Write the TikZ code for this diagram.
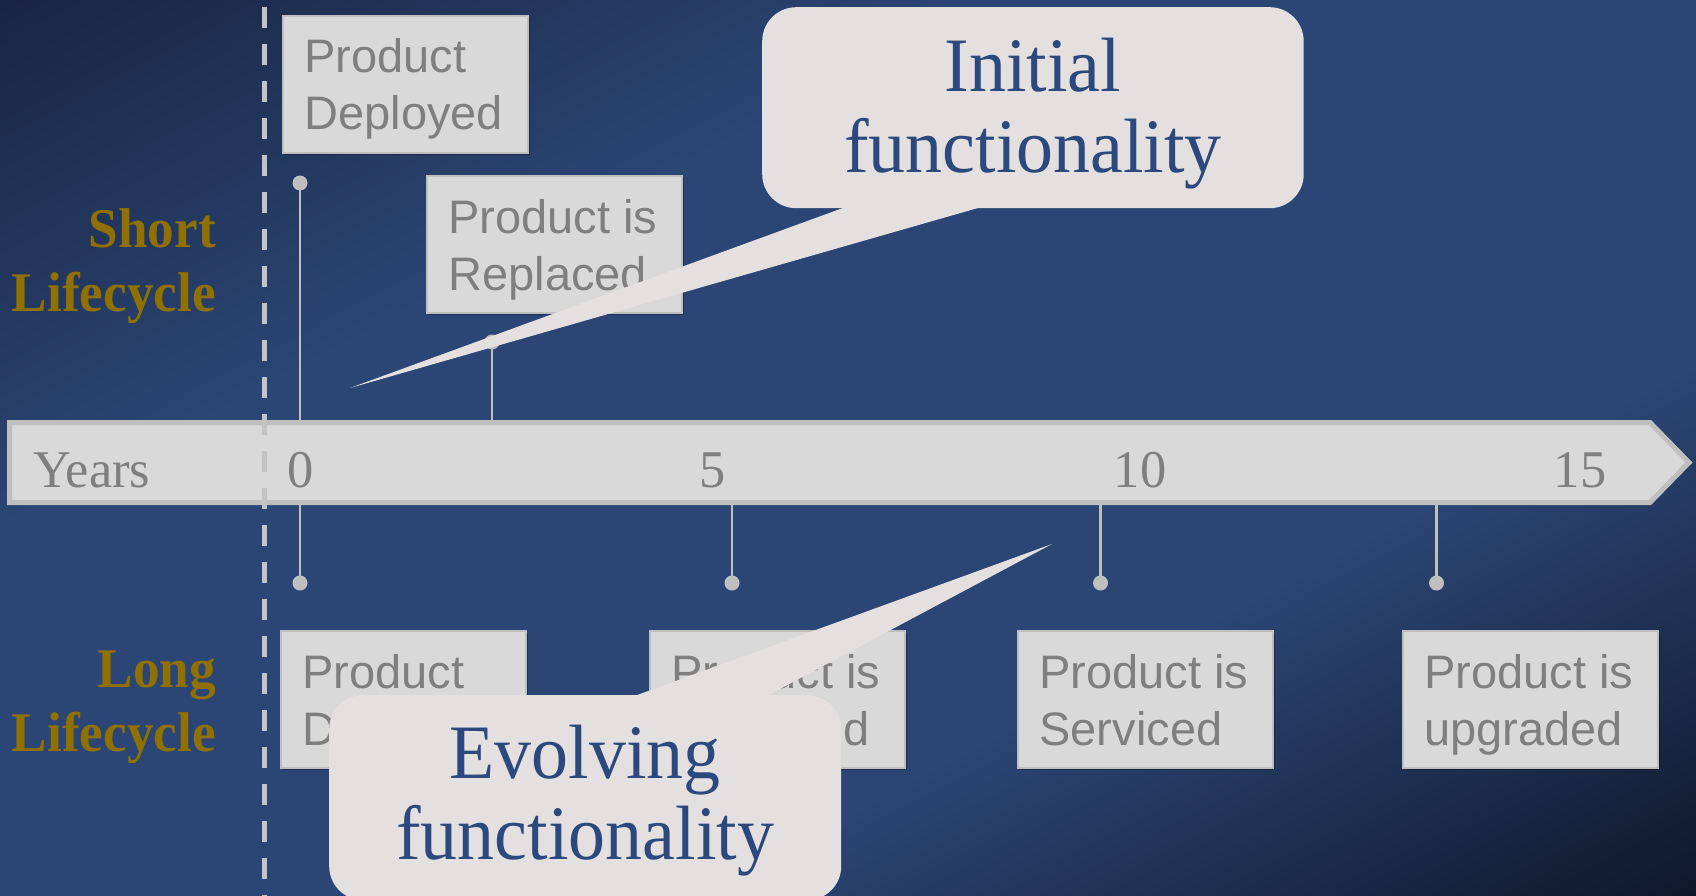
\documentclass[tikz,border=0pt]{standalone}
\usepackage{fontspec}
\setmainfont{Liberation Serif}
\newfontfamily\serifyrs[FakeStretch=0.99]{Liberation Serif}
\newfontfamily\serifcall[FakeStretch=0.96]{Liberation Serif}
\newfontfamily\serifbd[FakeStretch=0.95]{Liberation Serif}
\newfontfamily\sansbox{Liberation Sans}
\usetikzlibrary{shadows}
\definecolor{bgA}{RGB}{25,37,66}
\definecolor{bgB}{RGB}{43,70,117}
\definecolor{bgC}{RGB}{15,23,42}
\definecolor{barfill}{RGB}{217,217,217}
\definecolor{barline}{RGB}{191,191,191}
\definecolor{txtgray}{RGB}{127,127,127}
\definecolor{lifegold}{RGB}{143,112,0}
\definecolor{callfill}{RGB}{229,224,224}
\definecolor{calltext}{RGB}{44,73,126}
\definecolor{dashc}{RGB}{196,196,196}
\pgfdeclarehorizontalshading{bgsh}{100bp}{color(0bp)=(bgA); color(25bp)=(bgA); color(40bp)=(bgB); color(60bp)=(bgB); color(75bp)=(bgC); color(100bp)=(bgC)}
\newcommand\tworight[2]{\vtop{\halign{\hfil##\cr#1\cr#2\cr}}}
\newcommand\twocenter[2]{\vtop{\halign{\hfil##\hfil\cr#1\cr#2\cr}}}
\newcommand\boxtxt[3]{\hbox to #1{\vtop{\halign{##\hfil\cr#2\cr#3\cr}}\hfil}}
\begin{document}
\begin{tikzpicture}[x=1pt,y=-1pt,
  axisbar/.style={fill=barfill,draw=barline,line width=5pt,line join=miter},
  tick/.style={draw=barline,line width=2.5pt},
  dot/.style={circle,fill=barline,inner sep=0pt,minimum size=15pt},
  yrs/.style={font=\serifyrs\fontsize{53}{60}\selectfont,text=txtgray,inner sep=0pt},
  life/.style={font=\serifbd\bfseries\fontsize{56}{64}\selectfont,text=lifegold,inner sep=0pt},
  pbox/.style={anchor=north west,fill=barfill,draw=barline,line width=2pt,
    inner xsep=21.5pt,inner ysep=23pt,text height=34pt,text depth=57pt,
    font=\sansbox\fontsize{47}{57}\selectfont,text=txtgray,
    drop shadow={shadow xshift=1.5pt,shadow yshift=-2pt,opacity=0.3,fill=black}},
  callout/.style={anchor=north west,fill=callfill,rounded corners=34pt,inner sep=0pt,
    font=\serifcall\fontsize{77}{81}\selectfont,text=calltext},
  dashline/.style={draw=dashc,line width=5pt,dash pattern=on 21pt off 16pt}]
\useasboundingbox (0,0) rectangle (1696,896);
\fill[bgB] (0,0) rectangle (1696,896);
\begin{scope}
\clip (0,0) rectangle (1696,896);
\begin{scope}[transform canvas={shift={(848,448)},rotate=-62.16}]
\shade[shading=bgsh,shading angle=0] (-793,-1000) rectangle (793,1000);
\end{scope}
\end{scope}

% timeline axis
\coordinate (axtop) at (0,421);
\coordinate (axbot) at (0,504);
\draw[axisbar] (9.5,422.5) -- (1650,422.5) -- (1689,462.5) -- (1650,502.5) -- (9.5,502.5) -- cycle;

% ticks and dots
\node[dot] (u0) at (300,183) {};
\node[dot] (u2) at (492,342) {};
\node[dot] (l0) at (300,583) {};
\node[dot] (l5) at (732,583) {};
\node[dot] (l10) at (1100.5,583) {};
\node[dot] (l14) at (1436.5,583) {};
\draw[tick] (u0.center) -- (u0 |- axtop);
\draw[tick] (u2.center) -- (u2 |- axtop);
\draw[tick] (l0.center) -- (l0 |- axbot);
\draw[tick] (l5.center) -- (l5 |- axbot);
\draw[tick] (l10.center) -- (l10 |- axbot);
\draw[tick] (l14.center) -- (l14 |- axbot);

% axis labels
\node[yrs,anchor=base west] (years) at (33,487) {Years};
\node[yrs,anchor=base] (n0) at (301,487) {0};
\node[yrs,anchor=base] (n5) at (713,487) {5};
\node[yrs,anchor=base] (n10) at (1140,487) {10};
\node[yrs,anchor=base] (n15) at (1580,487) {15};

% dashed separator
\coordinate (dtop) at (264,7);
\coordinate (dbot) at (264,900);
\draw[dashline] (dtop) -- (dbot);

% lifecycle labels
\node[life,anchor=base east] (short) at (216,247) {\tworight{Short}{Lifecycle}};
\node[life,anchor=base east] (long) at (216,687) {\tworight{Long}{Lifecycle}};

% event boxes
\node[pbox] (bA) at (282,15) {\boxtxt{202pt}{Product}{Deployed}};
\node[pbox] (bB) at (426,175) {\boxtxt{212pt}{Product is}{Replaced}};
\node[pbox] (bC) at (280,630) {\boxtxt{202pt}{Product}{Deployed}};
\node[pbox] (bD) at (649,630) {\boxtxt{212pt}{Product is}{Replaced}};
\node[pbox] (bE) at (1017,630) {\boxtxt{212pt}{Product is}{Serviced}};
\node[pbox] (bF) at (1402,630) {\boxtxt{212pt}{Product is}{upgraded}};

% callouts
\node[callout,minimum width=541.5pt,text height=84pt,text depth=117pt] (c1) at (762,7) {\twocenter{Initial}{functionality}};
\coordinate (t1) at (350,388);
\fill[callfill] ([xshift=88pt,yshift=3pt]c1.south west) -- ([xshift=225pt,yshift=3pt]c1.south west) -- (t1) -- cycle;

\node[callout,minimum width=512pt,text height=83pt,text depth=122pt] (c2) at (329,695) {\twocenter{Evolving}{functionality}};
\coordinate (t2) at (1052,544);
\fill[callfill] ([xshift=300pt,yshift=-3pt]c2.north west) -- ([xshift=434pt,yshift=-3pt]c2.north west) -- (t2) -- cycle;
\end{tikzpicture}
\end{document}
